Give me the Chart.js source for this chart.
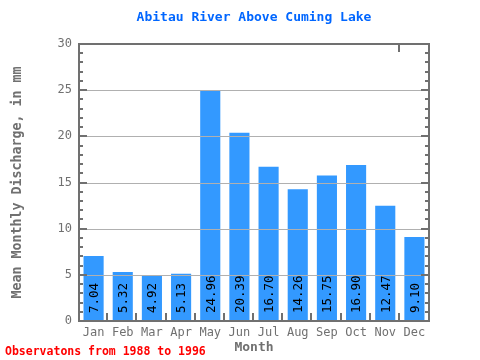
<!DOCTYPE html>
<html>
<head>
<meta charset="utf-8">
<script src="https://cdn.jsdelivr.net/npm/chart.js@4"></script>
<style>
html,body{margin:0;padding:0;background:#fff;}
#wrap{width:480px;height:360px;}
</style>
</head>
<body>
<div id="wrap"><canvas id="c" width="480" height="360"></canvas></div>
<script>
const months = ["Jan","Feb","Mar","Apr","May","Jun","Jul","Aug","Sep","Oct","Nov","Dec"];
const discharge = [7.04, 5.32, 4.92, 5.13, 24.96, 20.39, 16.70, 14.26, 15.75, 16.90, 12.47, 9.10];
const yTicks = [0, 5, 10, 15, 20, 25, 30];
const titleText = "Abitau River Above Cuming Lake";
const yTitle = "Mean Monthly Discharge, in mm";
const xTitle = "Month";
const footnote = "Observatons from 1988 to 1996";

const FONT = '"DejaVu Sans Mono", monospace';
const AXIS = '#707070';

const decor = {
  id: 'decor',
  afterDatasetsDraw(chart) {
    const ctx = chart.ctx;
    const a = chart.chartArea;
    const y = chart.scales.y;
    const x = chart.scales.x;
    ctx.save();
    // grid lines on top of bars
    ctx.strokeStyle = '#b0b0b0';
    ctx.lineWidth = 1;
    yTicks.forEach(v => {
      if (v === 0 || v === 30) return;
      const py = Math.round(y.getPixelForValue(v)) + 0.5;
      ctx.beginPath(); ctx.moveTo(a.left, py); ctx.lineTo(a.right, py); ctx.stroke();
    });
    // bar value labels
    ctx.fillStyle = '#000';
    ctx.font = '12.5px ' + FONT;
    ctx.textAlign = 'left';
    ctx.textBaseline = 'middle';
    discharge.forEach((v, i) => {
      const px = x.getPixelForValue(i);
      const py = y.getPixelForValue(0) - 8;
      ctx.save();
      ctx.translate(px + 1, py);
      ctx.rotate(-Math.PI / 2);
      ctx.fillText(v.toFixed(2), 0, 0);
      ctx.restore();
    });
    // minor / major ticks on y axes
    ctx.strokeStyle = AXIS;
    ctx.lineWidth = 2;
    for (let v = 1; v < 30; v++) {
      const py = Math.round(y.getPixelForValue(v));
      const len = v % 5 === 0 ? 8 : 4;
      ctx.beginPath(); ctx.moveTo(a.left, py); ctx.lineTo(a.left + len, py); ctx.stroke();
      ctx.beginPath(); ctx.moveTo(a.right, py); ctx.lineTo(a.right - len, py); ctx.stroke();
    }
    // category boundary ticks on x axis
    const step = (a.right - a.left) / months.length;
    for (let i = 1; i < months.length; i++) {
      const px = Math.round(a.left + i * step) - 1;
      ctx.beginPath(); ctx.moveTo(px, a.bottom); ctx.lineTo(px, a.bottom - 8); ctx.stroke();
    }
    const tpx = Math.round(a.left + 11 * step) - 1;
    ctx.beginPath(); ctx.moveTo(tpx, a.top); ctx.lineTo(tpx, a.top + 8); ctx.stroke();
    // frame
    ctx.strokeRect(a.left, a.top, a.right - a.left, a.bottom - a.top);
    ctx.restore();
  },
  afterDraw(chart) {
    const ctx = chart.ctx;
    const a = chart.chartArea;
    ctx.save();
    ctx.fillStyle = '#0066ff';
    ctx.font = 'bold 13px ' + FONT;
    ctx.textAlign = 'center';
    ctx.textBaseline = 'middle';
    ctx.fillText(titleText, (a.left + a.right) / 2, 18);
    ctx.fillStyle = '#ff0000';
    ctx.font = 'bold 11.5px ' + FONT;
    ctx.textAlign = 'left';
    ctx.fillText(footnote, 5, 352);
    ctx.restore();
  }
};

new Chart(document.getElementById('c'), {
  type: 'bar',
  data: {
    labels: months,
    datasets: [{
      data: discharge,
      backgroundColor: '#3399ff',
      borderWidth: 0,
      barPercentage: 0.69,
      categoryPercentage: 1.0
    }]
  },
  options: {
    responsive: false,
    animation: false,
    events: [],
    layout: { padding: { left: 0, right: 51, top: 44, bottom: 0 } },
    plugins: {
      legend: { display: false },
      tooltip: { enabled: false },
      title: { display: false }
    },
    scales: {
      x: {
        grid: { display: false, drawTicks: false },
        border: { display: false },
        ticks: { color: AXIS, font: { family: FONT, size: 12 }, padding: 5, maxRotation: 0, autoSkip: false },
        title: {
          display: true, text: xTitle, color: AXIS,
          font: { family: FONT, size: 13, weight: 'bold', lineHeight: 1.2 },
          padding: { top: 0, bottom: 5 }
        },
        afterFit(s) { s.height = 39; }
      },
      y: {
        min: 0, max: 30,
        grid: { display: false, drawTicks: false },
        border: { display: false },
        ticks: { stepSize: 5, color: AXIS, font: { family: FONT, size: 12 }, padding: 7 },
        title: {
          display: true, text: yTitle, color: AXIS,
          font: { family: FONT, size: 13.3, weight: 'bold', lineHeight: 1.2 },
          padding: { top: 10, bottom: 0 }
        },
        afterFit(s) { s.width = 79; }
      }
    }
  },
  plugins: [decor]
});
</script>
</body>
</html>
